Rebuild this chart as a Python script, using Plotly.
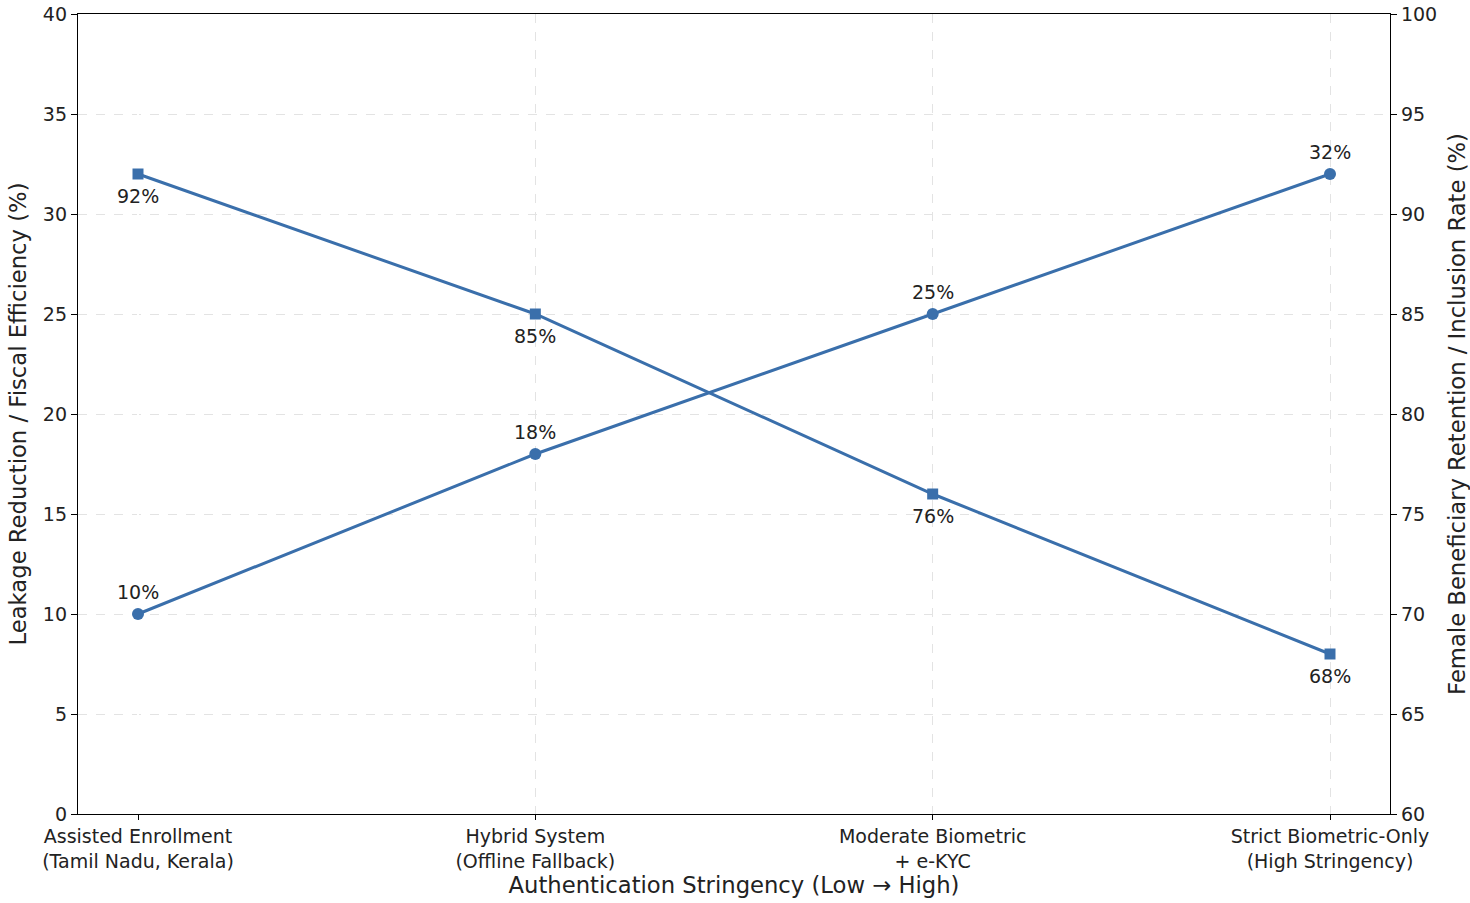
import plotly.graph_objects as go

categories = ["Assisted Enrollment<br>(Tamil Nadu, Kerala)", "Hybrid System<br>(Offline Fallback)",
              "Moderate Biometric<br>+ e-KYC", "Strict Biometric-Only<br>(High Stringency)"]
leakage_reduction = [10, 18, 25, 32]
female_retention = [92, 85, 76, 68]

color = "#3a6fab"
font_family = "DejaVu Sans"
xs = list(range(len(categories)))

fig = go.Figure()
fig.add_trace(go.Scatter(
    x=xs, y=leakage_reduction, mode="lines+markers",
    line=dict(color=color, width=3), marker=dict(symbol="circle", size=12, color=color),
    name="Leakage Reduction", yaxis="y"))
fig.add_trace(go.Scatter(
    x=xs, y=female_retention, mode="lines+markers",
    line=dict(color=color, width=3), marker=dict(symbol="square", size=11, color=color),
    name="Female Retention", yaxis="y2"))

annotations = []
for x, v in zip(xs, leakage_reduction):
    annotations.append(dict(x=x, y=v, xref="x", yref="y", text=f"{v}%", showarrow=False,
                            yshift=22, font=dict(family=font_family, size=19, color="#222")))
for x, v in zip(xs, female_retention):
    annotations.append(dict(x=x, y=v, xref="x", yref="y2", text=f"{v}%", showarrow=False,
                            yshift=-22, font=dict(family=font_family, size=19, color="#222")))

grid = dict(showgrid=True, gridcolor="#e3e3e3", griddash="dash", gridwidth=1)
fig.update_layout(
    width=1470, height=903, showlegend=False,
    margin=dict(l=78, r=80, t=14, b=89),
    plot_bgcolor="white", paper_bgcolor="white",
    font=dict(family=font_family, size=19, color="#222"),
    annotations=annotations,
    xaxis=dict(tickmode="array", tickvals=xs, ticktext=categories, range=[-0.151, 3.151],
               showline=True, linecolor="black", linewidth=1.3, mirror=True,
               ticks="outside", ticklen=5, tickcolor="black", automargin=False,
               ticklabeloverflow="allow",
               title=dict(text="Authentication Stringency (Low → High)", font=dict(size=22.7), standoff=4),
               tickfont=dict(size=19), **grid),
    yaxis=dict(range=[0, 40], dtick=5, showline=True, linecolor="black", linewidth=1.3,
               ticks="outside", ticklen=6, tickcolor="black", zeroline=False, automargin=False,
               ticklabeloverflow="allow",
               title=dict(text="Leakage Reduction / Fiscal Efficiency (%)", font=dict(size=22.7), standoff=9),
               tickfont=dict(size=19), **grid),
    yaxis2=dict(range=[60, 100], dtick=5, overlaying="y", side="right", showline=True,
                linecolor="black", linewidth=1.3, ticks="outside", ticklen=6, tickcolor="black",
                showgrid=False, zeroline=False, automargin=False, ticklabeloverflow="allow",
                title=dict(text="Female Beneficiary Retention / Inclusion Rate (%)", font=dict(size=22.7), standoff=22),
                tickfont=dict(size=19)),
)
fig.write_html("out.html", config={"displayModeBar": False},
               post_script="document.body.style.margin='0';document.body.style.overflow='hidden';")
